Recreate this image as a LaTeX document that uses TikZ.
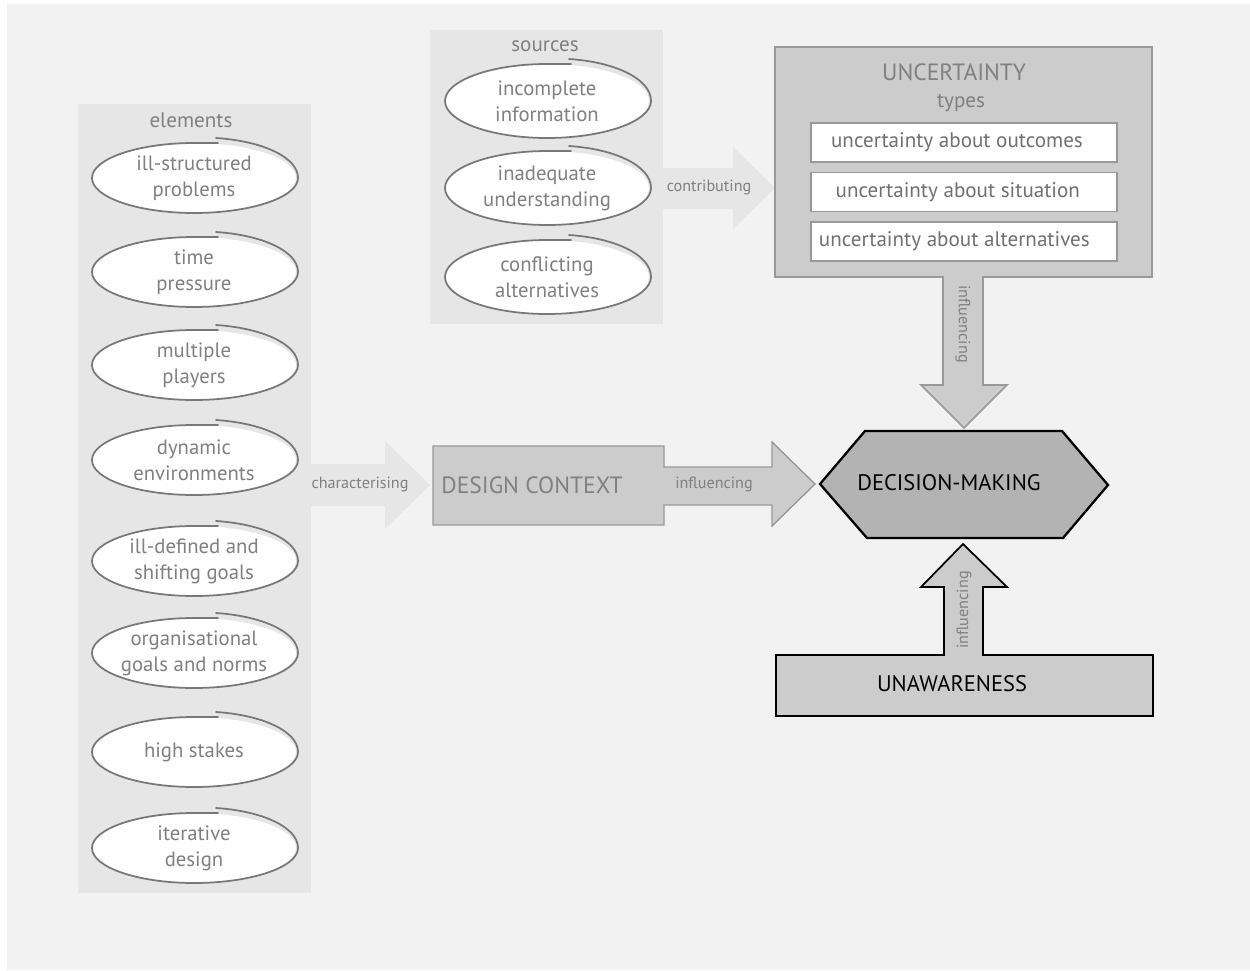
\documentclass[tikz,border=0pt]{standalone}
\usepackage{fontspec}
\setmainfont{PT Sans}
\definecolor{bg}{HTML}{F2F2F2}
\definecolor{panel}{HTML}{E6E6E6}
\definecolor{boxfill}{HTML}{CCCCCC}
\definecolor{hexfill}{HTML}{B3B3B3}
\definecolor{edgegray}{HTML}{999999}
\definecolor{ellline}{HTML}{787878}
\definecolor{txtgray}{HTML}{808080}
\definecolor{typetxt}{HTML}{707070}
\tikzset{
  eltxt/.style={text=txtgray,font=\fontsize{11.8}{14.7}\selectfont,align=center,inner sep=0pt},
  headtxt/.style={text=txtgray,font=\fontsize{12}{14}\selectfont,inner sep=0pt},
  smalltxt/.style={text=txtgray,font=\fontsize{9.2}{11}\selectfont,inner sep=0pt},
  bigtxt/.style={text=txtgray,font=\fontsize{13.4}{16}\selectfont,inner sep=0pt},
  blacktxt/.style={text=black,font=\fontsize{12.8}{15}\selectfont,inner sep=0pt},
  typebox/.style={draw=edgegray,fill=white,line width=0.8pt,minimum width=6.12cm,minimum height=0.78cm,
     text=typetxt,font=\fontsize{12}{14}\selectfont,inner sep=0pt},
  elline/.style={draw=ellline,line width=1pt,line cap=round,line join=round},
}
\newcommand\sketchell[5]{% name, cx, cy, ry, text
  \begin{scope}[shift={(#2,#3)}]
    \fill[white] (-102,0) .. controls (-102,-0.55*#4) and (-56,-#4) .. (0,-#4)
      .. controls (56,-#4) and (102,-0.55*#4) .. (102,0)
      .. controls (102,0.55*#4) and (56,#4) .. (0,#4)
      .. controls (-56,#4) and (-102,0.55*#4) .. (-102,0) -- cycle;
    \draw[elline] (22,-#4-5) .. controls (68,-#4-2) and (104,-0.6*#4) .. (104,0)
      .. controls (104,0.55*#4) and (57,#4) .. (0,#4)
      .. controls (-56,#4) and (-102,0.55*#4) .. (-102,0)
      .. controls (-102,-0.55*#4) and (-56,-#4) .. (0,-#4) -- (24,-#4);
  \end{scope}
  \node[eltxt] (#1) at (#2,#3) {#5};
}
\begin{document}
\begin{tikzpicture}[x=0.02cm,y=-0.02cm]
\useasboundingbox (0,0) rectangle (1250,970);
\fill[bg] (7,4) rectangle (1250,970);

% panels
\fill[panel] (78,104) rectangle (311,893);
\fill[panel] (430,30) rectangle (663,324);
\node[headtxt] (elementslbl) at (191,120) {elements};
\node[headtxt] (sourceslbl) at (545,46) {sources};

% element ellipses
\sketchell{e1}{194}{178}{35}{ill-structured\\problems}
\sketchell{e2}{194}{272}{35}{time\\pressure}
\sketchell{e3}{194}{365}{35}{multiple\\players}
\sketchell{e4}{194}{460}{35}{dynamic\\environments}
\sketchell{e5}{194}{561}{35}{ill-defined and\\shifting goals}
\sketchell{e6}{194}{653}{35}{organisational\\goals and norms}
\sketchell{e7}{194}{752}{35}{high stakes}
\sketchell{e8}{194}{848}{35}{iterative\\design}

% source ellipses
\sketchell{s1}{547}{101}{37}{incomplete\\information}
\sketchell{s2}{547}{188}{37}{inadequate\\understanding}
\sketchell{s3}{547}{277}{37}{conflicting\\alternatives}

% characterising arrow
\fill[panel] (311,464) -- (385,464) -- (385,441) -- (430,485) -- (385,529) -- (385,506) -- (311,506) -- cycle;
\node[smalltxt] (charlbl) at (360,484) {characterising};

% contributing arrow
\fill[panel] (663,168) -- (733,168) -- (733,147) -- (775,188) -- (733,229) -- (733,209) -- (663,209) -- cycle;
\node[smalltxt] (contlbl) at (709,187) {contributing};

% design context arrow
\draw[fill=boxfill,draw=edgegray,line width=0.8pt,line join=miter]
  (433,446) -- (664,446) -- (664,467) -- (772,467) -- (772,442) -- (815,484)
  -- (772,526) -- (772,505) -- (664,505) -- (664,525) -- (433,525) -- cycle;
\node[bigtxt] (design) at (532,485) {DESIGN CONTEXT};
\node[smalltxt] (inflA) at (714,484) {influencing};

% uncertainty box with arrow
\draw[fill=boxfill,draw=edgegray,line width=0.9pt]
  (775,47) -- (1152,47) -- (1152,277) -- (983,277) -- (983,385) -- (1007,385)
  -- (964,428) -- (921,385) -- (943,385) -- (943,277) -- (775,277) -- cycle;
\node[bigtxt] (unc) at (954,72) {UNCERTAINTY};
\node[headtxt] (types) at (961,103) {types};
\node[typebox] (t1) at (964,142.5) {\hspace*{-8pt}uncertainty about outcomes};
\node[typebox] (t2) at (964,192) {\hspace*{-7pt}uncertainty about situation};
\node[typebox] (t3) at (964,241.5) {\hspace*{-11pt}uncertainty about alternatives};
\node[smalltxt,rotate=-90] (inflB) at (963,324) {influencing};

% decision-making hexagon
\draw[fill=hexfill,draw=black,line width=1.3pt,line join=miter]
  (865,431) -- (1062,431) -- (1108,485) -- (1063,538) -- (867,538) -- (820,484) -- cycle;
\node[blacktxt] (dm) at (949,483) {DECISION-MAKING};

% unawareness box with arrow
\draw[fill=boxfill,draw=black,line width=1pt,line join=miter]
  (776,655) -- (944,655) -- (944,587) -- (921,587) -- (963,544) -- (1007,587)
  -- (983,587) -- (983,655) -- (1153,655) -- (1153,716) -- (776,716) -- cycle;
\node[blacktxt] (unaw) at (952,684) {UNAWARENESS};
\node[smalltxt,rotate=90] (inflC) at (964,610) {influencing};
\end{tikzpicture}
\end{document}
